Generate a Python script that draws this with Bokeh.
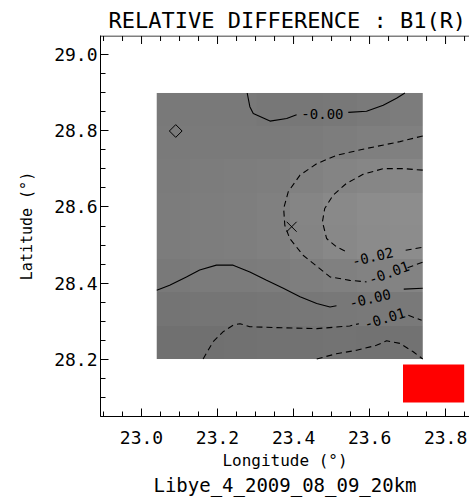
import numpy as np
from bokeh.plotting import figure
from bokeh.models import Range1d, LinearAxis, FixedTicker, Label, Title
from bokeh.embed import file_html
from bokeh.resources import INLINE

nan = float("nan")

# ---------------- data ----------------
title_text = "RELATIVE DIFFERENCE : B1(R)"
x_title = "Longitude (°)"
y_title = "Latitude (°)"
sub_title = "Libye_4_2009_08_09_20km"

x_major = [23.0, 23.2, 23.4, 23.6, 23.8]
x_labels = ["23.0", "23.2", "23.4", "23.6", "23.8"]
y_major = [28.2, 28.4, 28.6, 28.8, 29.0]
y_labels = ["28.2", "28.4", "28.6", "28.8", "29.0"]
x_minor = [22.9, 22.95, 23.05, 23.1, 23.15, 23.25, 23.3, 23.35, 23.45, 23.5,
           23.55, 23.65, 23.7, 23.75, 23.85]
y_minor = [28.05, 28.1, 28.15, 28.25, 28.3, 28.35, 28.45, 28.5, 28.55, 28.65,
           28.7, 28.75, 28.85, 28.9, 28.95]

# grey shading of the field (rows from lat 28.2 up to 28.9, cols lon 23.04 .. 23.74)
field_lon0, field_lat0, field_dlon, field_dlat = 23.04, 28.20, 0.70, 0.70
field_gray = [
    [112, 112, 113, 114, 114, 115, 114, 114],
    [116, 117, 117, 118, 119, 120, 121, 121],
    [121, 123, 123, 124, 126, 128, 130, 131],
    [124, 125, 126, 128, 132, 136, 139, 140],
    [124, 125, 126, 128, 133, 137, 140, 141],
    [123, 124, 125, 126, 129, 132, 134, 135],
    [122, 122, 122, 122, 123, 125, 127, 128],
    [121, 121, 121, 119, 119, 120, 122, 124],
]

# contour lines (NaN = gap for the label)
top0_lon = [23.278, 23.285, 23.294, 23.338, 23.382, 23.408, nan, 23.544, 23.592, 23.636, 23.671, 23.693]
top0_lat = [28.900, 28.864, 28.846, 28.826, 28.833, 28.843, nan, 28.849, 28.852, 28.868, 28.886, 28.900]

outer1_lon = [23.740, 23.680, 23.592, 23.513, 23.461, 23.417, 23.386, 23.374, 23.377, 23.390,
              23.425, 23.469, 23.496, 23.548, 23.592, nan, 23.700, 23.740]
outer1_lat = [28.787, 28.772, 28.754, 28.736, 28.714, 28.684, 28.640, 28.596, 28.552, 28.517,
              28.473, 28.438, 28.416, 28.407, 28.403, nan, 28.440, 28.455]

inner2_lon = [23.740, 23.688, 23.636, 23.583, 23.539, 23.504, 23.482, 23.476, 23.487, 23.513,
              23.544, nan, 23.695, 23.740]
inner2_lat = [28.697, 28.701, 28.701, 28.686, 28.662, 28.631, 28.596, 28.561, 28.517, 28.495,
              28.480, nan, 28.486, 28.494]

bot0_lon = [23.040, 23.074, 23.118, 23.153, 23.197, 23.241, 23.285, 23.329, 23.373, 23.417,
            23.461, 23.496, 23.513, nan, 23.690, 23.740]
bot0_lat = [28.381, 28.394, 28.416, 28.434, 28.447, 28.447, 28.429, 28.407, 28.386, 28.364,
            28.346, 28.337, 28.340, nan, 28.384, 28.386]

low1_lon = [23.162, 23.188, 23.215, 23.241, 23.259, 23.285, 23.373, 23.461, 23.548, 23.572,
            nan, 23.702, 23.737]
low1_lat = [28.200, 28.245, 28.272, 28.289, 28.293, 28.285, 28.282, 28.280, 28.287, 28.293,
            nan, 28.315, 28.302]

low2_lon = [23.461, 23.513, 23.566, 23.618, 23.645, 23.680, 23.715, 23.740]
low2_lat = [28.200, 28.214, 28.223, 28.236, 28.248, 28.241, 28.219, 28.200]

# contour labels
clab_text = ["-0.00", "-0.02", "-0.01", "-0.00", "-0.01"]
clab_lon = [23.476, 23.608, 23.651, 23.601, 23.640]
clab_lat = [28.846, 28.469, 28.427, 28.359, 28.307]
clab_deg = [0, 13, 20, 13, 17]

# markers
diamond_lon, diamond_lat = [23.09], [28.80]
cross_lon, cross_lat = [23.395], [28.548]

# overlay artefact of the screenshot
red_box = dict(left=23.688, right=23.849, top=28.1855, bottom=28.0855)

# ---------------- figure ----------------
FONT = "DejaVu Sans Mono"
X0, X1 = 22.892, 23.863
Y0, Y1 = 28.0487, 29.0513
PX = 380.0  # pixels per degree on both axes

p = figure(width=469, height=499, output_backend="svg", toolbar_location=None,
           x_axis_type=None, y_axis_type=None, title=None,
           x_range=Range1d(X0, X1), y_range=Range1d(Y0, Y1),
           min_border_left=100, min_border_right=0, min_border_top=35, min_border_bottom=83)
p.outline_line_color = None
p.background_fill_color = "white"
p.border_fill_color = "white"


def make_axis(major, minor, labels, standoff):
    ax = LinearAxis(ticker=FixedTicker(ticks=major, minor_ticks=minor))
    ax.major_label_overrides = {m: l for m, l in zip(major, labels)}
    ax.major_tick_in = 8
    ax.major_tick_out = 0
    ax.minor_tick_in = 5
    ax.minor_tick_out = 0
    ax.axis_line_color = "black"
    ax.major_tick_line_color = "black"
    ax.minor_tick_line_color = "black"
    ax.major_label_text_font = FONT
    ax.major_label_text_color = "black"
    ax.major_label_standoff = standoff
    ax.major_label_text_font_size = "18px"
    return ax


p.add_layout(make_axis(x_major, x_minor, x_labels, 14), "below")
p.add_layout(make_axis(y_major, y_minor, y_labels, 3), "left")

p.add_layout(Title(text=title_text, text_font=FONT, text_font_size="22px", text_font_style="normal",
                   text_color="black", align="left", offset=8, standoff=6), "above")
p.add_layout(Title(text=x_title, text_font=FONT, text_font_size="16px", text_font_style="normal",
                   text_color="black", align="center", standoff=4), "below")
p.add_layout(Title(text=sub_title, text_font=FONT, text_font_size="19px", text_font_style="normal",
                   text_color="black", align="center", standoff=0), "below")
p.add_layout(Title(text=y_title, text_font=FONT, text_font_size="15px", text_font_style="normal",
                   text_color="black", align="center", standoff=31), "left")

# grey field
g = np.array(field_gray, dtype=np.uint8)
rgba = np.zeros((g.shape[0], g.shape[1], 4), dtype=np.uint8)
rgba[..., 0] = g
rgba[..., 1] = g
rgba[..., 2] = g
rgba[..., 3] = 255
img = rgba.view(dtype=np.uint32).reshape(g.shape)
p.image_rgba(image=[img], x=field_lon0, y=field_lat0, dw=field_dlon, dh=field_dlat)

# top frame edge with inward ticks (mirrors the bottom axis ticks)
y_edge = Y1 - 0.5 / PX
p.line([X0, X1], [y_edge, y_edge], line_color="black", line_width=1)
p.segment(x0=x_major, y0=[y_edge] * len(x_major), x1=x_major,
          y1=[y_edge - 8 / PX] * len(x_major), line_color="black", line_width=1)
p.segment(x0=x_minor, y0=[y_edge] * len(x_minor), x1=x_minor,
          y1=[y_edge - 5 / PX] * len(x_minor), line_color="black", line_width=1)

# contours
p.line(top0_lon, top0_lat, line_color="black", line_width=1.1)
p.line(bot0_lon, bot0_lat, line_color="black", line_width=1.1)
for lx, ly in [(outer1_lon, outer1_lat), (inner2_lon, inner2_lat),
               (low1_lon, low1_lat), (low2_lon, low2_lat)]:
    p.line(lx, ly, line_color="black", line_width=1.1, line_dash="6 4")

for t, x, y, a in zip(clab_text, clab_lon, clab_lat, clab_deg):
    p.add_layout(Label(x=x, y=y, text=t, angle=a, angle_units="deg", text_font=FONT,
                       text_font_size="14px", text_align="center", text_baseline="middle",
                       text_color="black"))

# markers
p.scatter(diamond_lon, diamond_lat, marker="square", size=9, angle=np.pi / 4,
          fill_color=None, line_color="black", line_width=1)
p.scatter(cross_lon, cross_lat, marker="x", size=14, line_color="black", line_width=1)

# artefact
p.quad(left=[red_box["left"]], right=[red_box["right"]], top=[red_box["top"]],
       bottom=[red_box["bottom"]], fill_color="#ff0000", line_color=None)

open("out.html", "w").write(file_html(p, INLINE))
